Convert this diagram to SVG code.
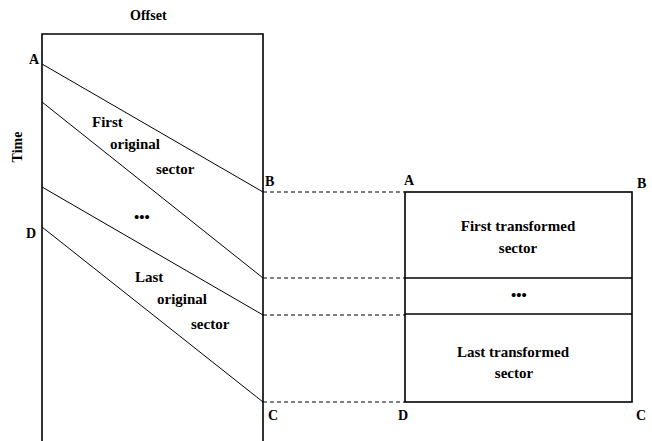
<svg xmlns="http://www.w3.org/2000/svg" width="652" height="441" viewBox="0 0 652 441">
<style>
text{font-family:"Liberation Serif","Times New Roman",serif;font-weight:bold;font-size:15px;fill:#000}
.lbl{font-size:14px}
.box{fill:none;stroke:#000;stroke-width:1.6}
.ln{stroke:#000;stroke-width:1;fill:none}
.dash{stroke:#000;stroke-width:1;stroke-dasharray:4,3;fill:none}
</style>
<rect width="652" height="441" fill="#fff"/>
<g id="axis-labels">
<text x="130" y="20" class="lbl">Offset</text>
<text transform="translate(22,147) rotate(-90)" text-anchor="middle" class="lbl">Time</text>
</g>
<g id="original-region">
<path class="box" d="M42,441 V34 H263 V441"/>
<text x="29" y="64" class="lbl">A</text>
<text x="265" y="186" class="lbl">B</text>
<text x="26" y="238" class="lbl">D</text>
<text x="268" y="420" class="lbl">C</text>
</g>
<g id="first-original">
<text x="92" y="127">First</text>
<text x="110" y="149">original</text>
<text x="156" y="174">sector</text>
</g>
<g id="mid-original">
<text x="142" y="222" text-anchor="middle">•••</text>
</g>
<g id="last-original">
<text x="135" y="282">Last</text>
<text x="157" y="304">original</text>
<text x="191" y="329">sector</text>
</g>
<g id="transformed">
<rect class="box" x="405" y="192" width="227" height="210"/>
<line class="box" x1="405" y1="278" x2="632" y2="278"/>
<line class="box" x1="405" y1="314" x2="632" y2="314"/>
<text x="404" y="185" class="lbl">A</text>
<text x="637" y="188" class="lbl">B</text>
<text x="398" y="420" class="lbl">D</text>
<text x="636" y="420" class="lbl">C</text>
</g>
<g id="first-transformed">
<text x="518" y="231" text-anchor="middle">First transformed</text>
<text x="518" y="253" text-anchor="middle">sector</text>
</g>
<g id="mid-transformed">
<text x="519" y="300" text-anchor="middle">•••</text>
</g>
<g id="last-transformed">
<text x="513" y="357" text-anchor="middle">Last transformed</text>
<text x="514" y="378" text-anchor="middle">sector</text>
</g>
<g id="connectors">
<line class="ln" x1="42" y1="64" x2="263" y2="192"/>
<line class="ln" x1="42" y1="102" x2="263" y2="278"/>
<line class="ln" x1="42" y1="187" x2="263" y2="315"/>
<line class="ln" x1="42" y1="227" x2="263" y2="402"/>
<line class="dash" x1="263" y1="192" x2="405" y2="192"/>
<line class="dash" x1="263" y1="278" x2="405" y2="278"/>
<line class="dash" x1="263" y1="315" x2="405" y2="315"/>
<line class="dash" x1="263" y1="402" x2="405" y2="402"/>
</g>
</svg>
